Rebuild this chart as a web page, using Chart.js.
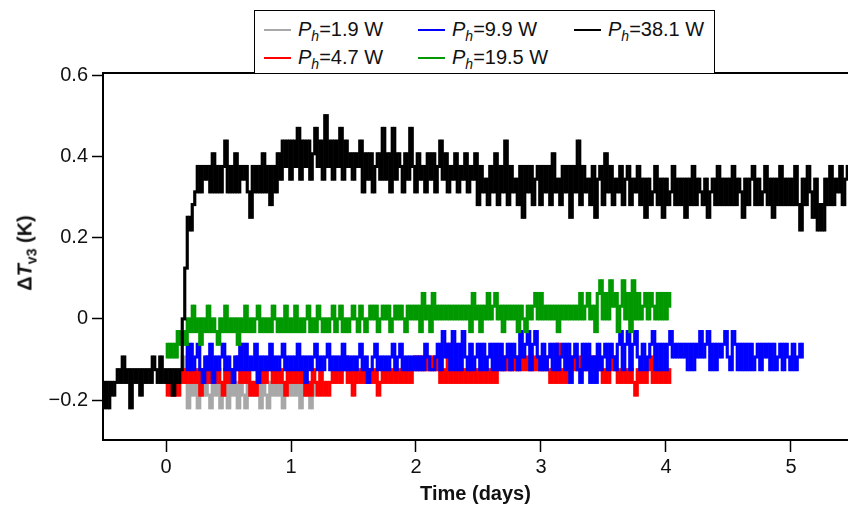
<!DOCTYPE html>
<html lang="en">
<head>
  <meta charset="UTF-8" />
  <title>Delta T v3 vs time</title>
  <script src="https://cdn.jsdelivr.net/npm/chart.js"></script>
  <style>
    body { margin: 0; background: #fff; font-family: "Liberation Sans", Arial, sans-serif; }
    #wrap { position: relative; width: 848px; height: 508px; overflow: hidden; }
    #legend { position: absolute; left: 254px; top: 10px; width: 461px; height: 63px;
              border: 1.5px solid #000; border-bottom: none; box-sizing: border-box; background: #fff; }
    .item { position: absolute; font-size: 20px; line-height: 20px; white-space: nowrap; color: #111; }
    .item .swatch { display: inline-block; width: 27px; height: 2px; vertical-align: middle; margin-right: 7px; position: relative; top: -1px; }
    .item i { font-style: italic; }
    .item sub { font-size: 14px; font-style: italic; vertical-align: -5px; line-height: 0; }
    #ytitle { position: absolute; left: 25px; top: 253px; transform: translate(-50%, -50%) rotate(-90deg);
              font-weight: bold; font-size: 20px; white-space: nowrap; color: #111; }
    #ytitle sub { font-size: 14px; vertical-align: -5px; line-height: 0; }
  </style>
</head>
<body>
<div id="wrap">
  <canvas id="chart" width="848" height="508"></canvas>
  <div id="legend"></div>
  <div id="ytitle">&Delta;<i>T</i><sub>v3</sub> (K)</div>
</div>

<script>
  // temperatures are recorded in steps of 1/32 K, so the series are stored in those steps
  const LSB = 1 / 32;
  const DT = 0.02; // days between samples

  const xTicks = [0, 1, 2, 3, 4, 5];
  const yTicks = [-0.2, 0, 0.2, 0.4, 0.6];

  const powers = ["1.9", "4.7", "9.9", "19.5", "38.1"];
  const colors = ["#a8a8a8", "#ff0000", "#0000ff", "#009a00", "#000000"];

  // start time (days) of each series
  const t0 = [0.12, 0.00, 0.16, 0.00, -0.50];

  const gray = [
    -4,-3,-5,-7,-5,-6,-5,-7,-5,-6,-5,-6,-7,-5,-6,-5,-7,-6,-5,-7,-5,-6,-5,-7,-5,
    -6,-7,-5,-6,-5,-6,-5,-7,-5,-6,-7,-5,-6,-5,-6,-5,-7,-6,-5,-6,-5,-6,-5,-7,-5,
    -6,-5,-7,-5,-6
  ];

  const red = [
    -5,-6,-5,-6,-5,-6,-5,-4,-5,-4,-5,-4,-5,-4,-6,-4,-5,-3,-5,-4,-5,-4,-5,-6,-4,
    -5,-4,-5,-4,-3,-5,-4,-5,-4,-6,-5,-6,-4,-5,-4,-5,-4,-3,-5,-4,-5,-4,-5,-6,-4,
    -5,-4,-5,-4,-5,-4,-6,-5,-6,-4,-5,-6,-4,-6,-5,-6,-5,-4,-5,-4,-5,-4,-3,-5,-4,
    -6,-4,-5,-4,-5,-4,-5,-4,-5,-4,-6,-5,-4,-5,-4,-5,-4,-5,-4,-5,-4,-5,-4,-5,-4,
    -3,-4,-3,-4,-3,-4,-3,-4,-3,-4,-5,-4,-5,-2,-5,-4,-5,-4,-5,-4,-5,-4,-5,-4,-5,
    -4,-5,-4,-5,-4,-5,-4,-5,-4,-3,-4,-3,-4,-3,-4,-3,-4,-3,-4,-3,-4,-3,-4,-3,-4,
    -3,-4,-3,-4,-5,-4,-5,-2,-5,-4,-5,-3,-4,-3,-4,-3,-4,-3,-4,-3,-4,-3,-4,-3,-4,
    -5,-4,-5,-4,-3,-4,-5,-4,-5,-4,-5,-4,-5,-6,-4,-5,-4,-5,-4,-3,-5,-4,-5,-4,-5,
    -4,-5,-4
  ];

  const blue = [
    -2,-4,-2,-4,-3,-2,-4,-5,-3,-4,-2,-5,-3,-4,-3,-2,-4,-3,-4,-5,-3,-4,-2,-4,-2,
    -4,-3,-4,-2,-5,-3,-4,-3,-4,-2,-4,-3,-4,-3,-2,-4,-3,-4,-3,-4,-2,-4,-3,-5,-3,
    -4,-3,-2,-4,-3,-4,-3,-2,-4,-3,-4,-3,-4,-2,-4,-3,-4,-3,-4,-3,-2,-4,-3,-5,-4,
    -3,-2,-4,-3,-4,-3,-4,-3,-2,-4,-3,-2,-4,-3,-4,-3,-4,-3,-4,-3,-4,-2,-3,-4,-4,
    -3,-2,-4,-1,-3,-2,-4,-1,-4,-2,-4,-1,-3,-4,-2,-4,-3,-2,-4,-2,-4,-3,-2,-4,-2,
    -4,-2,-4,-3,-2,-4,-2,-3,-4,-1,-3,-2,-1,-4,-2,-1,-3,-4,-2,-4,-3,-2,-4,-2,-4,
    -3,-2,-4,-2,-5,-3,-2,-4,-5,-2,-4,-2,-5,-3,-5,-2,-4,-3,-2,-4,-2,-3,-4,-2,-1,
    -4,-2,-1,-4,-2,-1,-3,-4,-2,-4,-3,-2,-1,-4,-2,-4,-2,-4,-2,-1,-3,-2,-3,-2,-3,
    -2,-4,-2,-4,-2,-3,-1,-3,-2,-1,-4,-2,-4,-2,-3,-2,-1,-3,-4,-1,-2,-4,-2,-4,-2,
    -4,-2,-4,-3,-2,-4,-2,-3,-2,-4,-2,-4,-3,-2,-4,-2,-3,-4,-2,-4,-3,-2,-3
  ];

  const green = [
    -3,-2,-3,-2,-3,-1,-2,-1,-2,0,-1,1,-1,0,-2,0,-1,1,-1,0,-1,-2,0,-1,1,
    -1,0,-1,0,-2,0,-1,1,-1,0,-1,0,1,-1,0,-1,0,-1,1,0,-1,0,-1,1,-1,
    0,-1,1,-1,0,-1,0,1,-1,0,-1,1,0,-1,0,-1,0,1,-1,0,1,-1,0,-1,0,
    1,0,-1,1,0,-1,0,1,0,1,-1,0,1,0,1,-1,0,1,0,1,0,-1,1,0,1,
    0,1,-1,2,0,1,-1,2,0,1,0,1,0,1,0,1,0,1,0,1,0,1,-1,2,0,
    1,-1,1,0,2,0,1,2,0,1,-1,1,0,1,0,1,-1,1,0,-1,1,0,1,2,0,
    2,0,1,0,1,0,1,-1,1,0,1,0,1,0,1,0,2,0,1,2,0,1,-1,2,3,
    0,2,0,3,1,2,-1,1,3,0,2,-1,3,0,2,0,1,2,0,2,1,0,2,0,2,0,2,1
  ];

  const black = [
    -7,-5,-7,-5,-6,-5,-4,-5,-3,-5,-4,-7,-4,-5,-4,-6,-4,-5,-4,-5,-3,-4,-5,-3,-5,
    -4,-5,-4,-6,-4,-5,-4,0,4,8,7,9,10,12,10,12,11,12,10,13,10,12,10,12,14,
    10,12,10,13,10,12,11,12,10,8,12,10,12,10,13,10,12,9,12,10,13,11,14,12,14,
    11,14,12,15,11,14,12,14,11,13,15,12,14,11,16,12,14,11,14,12,15,11,14,12,13,
    11,13,12,14,10,13,11,13,10,12,13,11,15,11,13,10,15,11,13,12,10,13,11,15,12,
    10,13,11,12,10,13,11,13,10,12,14,11,13,10,12,11,13,10,12,11,13,10,12,11,13,
    9,12,10,11,9,12,10,13,9,12,10,14,9,12,10,11,9,12,8,12,10,12,9,11,12,
    9,12,10,12,9,13,10,11,9,12,10,12,8,12,10,14,9,12,10,11,9,12,8,11,12,
    9,13,10,12,9,11,10,12,9,11,12,9,11,10,12,9,11,8,11,9,10,12,9,11,8,
    11,9,10,12,9,11,9,11,8,11,9,12,9,11,10,9,11,8,10,11,9,12,9,11,9,
    11,9,12,9,11,10,8,11,9,11,12,9,11,9,10,12,9,11,8,11,9,12,9,11,9,
    11,9,12,9,7,11,9,12,10,8,11,7,9,7,11,9,12,9,11,10,12,9,11,12
  ];

  const series = [gray, red, blue, green, black];

  // legend, laid out the way the original plot has it (three columns, two rows)
  const legendSpots = [[9, 8], [9, 36], [163, 8], [163, 36], [319, 8]];
  const legend = document.getElementById("legend");
  powers.forEach((p, i) => {
    const el = document.createElement("div");
    el.className = "item";
    el.style.left = legendSpots[i][0] + "px";
    el.style.top = legendSpots[i][1] + "px";
    el.innerHTML = `<span class="swatch" style="background:${colors[i]}"></span><i>P</i><sub>h</sub>=${p} W`;
    legend.appendChild(el);
  });

  // each segment of the trace is drawn as the vertical span it covers between two
  // neighbouring samples, which is how the densely sampled record looks on paper
  const PAD = 0.003; // half a line width, in K
  function toSpans(vals, start) {
    const out = [];
    for (let i = 0; i + 1 < vals.length; i++) {
      const a = vals[i] * LSB, b = vals[i + 1] * LSB;
      out.push({ x: start + (i + 0.5) * DT, y: [Math.min(a, b) - PAD, Math.max(a, b) + PAD] });
    }
    return out;
  }

  // Chart.js paints dataset 0 on top, so black goes first
  const drawOrder = [4, 3, 2, 1, 0];
  const datasets = drawOrder.map(i => ({
    label: "Ph=" + powers[i] + " W",
    data: toSpans(series[i], t0[i]),
    backgroundColor: colors[i],
    borderWidth: 0,
    barThickness: 2.5,
    grouped: false
  }));

  const frameTop = {
    id: "frameTop",
    afterDraw(chart) {
      const { ctx, chartArea } = chart;
      ctx.save();
      ctx.strokeStyle = "#000";
      ctx.lineWidth = 2;
      ctx.beginPath();
      ctx.moveTo(chartArea.left - 1, chartArea.top);
      ctx.lineTo(chart.width, chartArea.top);
      ctx.stroke();
      ctx.restore();
    }
  };

  const tickFont = { family: "'Liberation Sans', Arial, sans-serif", size: 20 };

  new Chart(document.getElementById("chart").getContext("2d"), {
    type: "bar",
    data: { datasets: datasets },
    options: {
      responsive: false,
      animation: false,
      devicePixelRatio: 1,
      layout: { padding: { top: 73, right: 0, left: 0, bottom: 0 } },
      plugins: { legend: { display: false }, tooltip: { enabled: false } },
      scales: {
        x: {
          type: "linear",
          offset: false,
          min: -0.504,
          max: 5.456,
          afterBuildTicks: s => { s.ticks = xTicks.map(v => ({ value: v })); },
          afterFit: s => { s.height = 68; },
          ticks: { color: "#111", font: tickFont, padding: 3, maxRotation: 0,
                   callback: v => String(v) },
          grid: { offset: false, drawOnChartArea: false, tickLength: 12, tickWidth: 1.5, tickColor: "#000" },
          border: { display: true, color: "#000", width: 2 },
          title: { display: true, text: "Time (days)", color: "#111",
                   font: { family: "'Liberation Sans', Arial, sans-serif", size: 20, weight: "bold" },
                   padding: { top: 0, bottom: 2 } }
        },
        y: {
          min: -0.298,
          max: 0.605,
          afterBuildTicks: s => { s.ticks = yTicks.map(v => ({ value: v })); },
          afterFit: s => { s.width = 103; },
          ticks: { color: "#111", font: tickFont, padding: 4,
                   callback: v => (v < 0 ? "\u2212" + Math.abs(v) : String(v)) },
          grid: { drawOnChartArea: false, tickLength: 11, tickWidth: 1.5, tickColor: "#000" },
          border: { display: true, color: "#000", width: 2 }
        }
      }
    },
    plugins: [frameTop]
  });
</script>
</body>
</html>
